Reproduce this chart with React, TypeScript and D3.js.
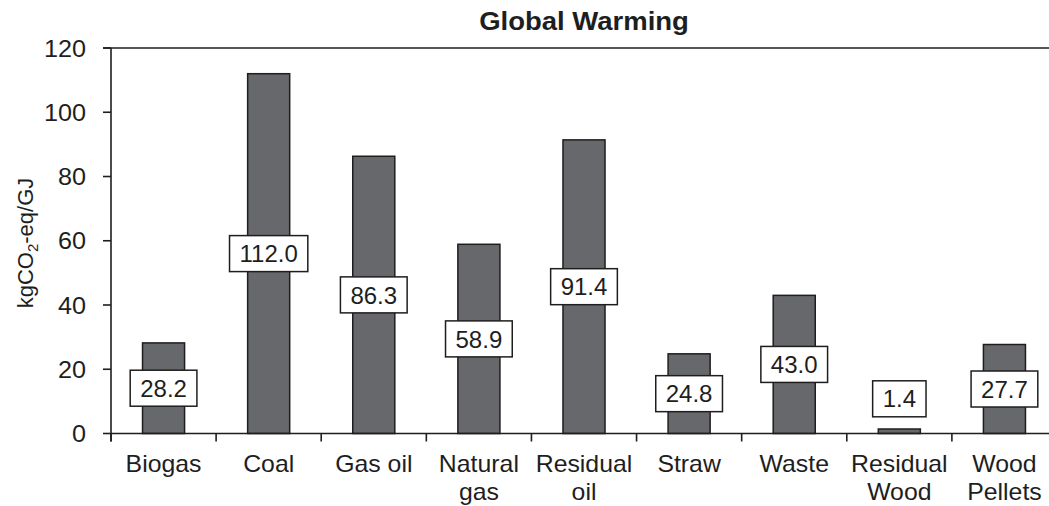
import React, { useEffect, useRef } from "react";
import * as d3 from "d3";

// Global warming potential per fuel, kgCO2-eq/GJ
const categories: string[][] = [
  ["Biogas"],
  ["Coal"],
  ["Gas oil"],
  ["Natural", "gas"],
  ["Residual", "oil"],
  ["Straw"],
  ["Waste"],
  ["Residual", "Wood"],
  ["Wood", "Pellets"],
];
const values: number[] = [28.2, 112.0, 86.3, 58.9, 91.4, 24.8, 43.0, 1.4, 27.7];
const yTicks: number[] = [0, 20, 40, 60, 80, 100, 120];

const W = 1049;
const H = 506;
const FONT = "'Liberation Sans', Arial, Helvetica, sans-serif";
const INK = "#1e1e1e";

export default function App() {
  const ref = useRef<SVGSVGElement | null>(null);

  useEffect(() => {
    const svg = d3.select(ref.current);
    svg.selectAll("*").remove();

    const left = 111;
    const right = 1057;
    const top = 48;
    const bottom = 433.5;

    const keys = categories.map((c) => c.join(" "));
    const x = d3.scaleBand<string>().domain(keys).range([left, right]).paddingInner(0).paddingOuter(0);
    const y = d3.scaleLinear().domain([0, 120]).range([bottom, top]);
    const barW = x.bandwidth() * 0.4;

    // title
    svg
      .append("text")
      .attr("transform", `translate(${(left + right) / 2},30) scale(1.1,1)`)
      .attr("text-anchor", "middle")
      .attr("font-family", FONT)
      .attr("font-weight", "bold")
      .attr("font-size", 25)
      .attr("fill", INK)
      .text("Global Warming");

    // y axis title
    const yt = svg
      .append("text")
      .attr("transform", `translate(33,243) rotate(-90)`)
      .attr("text-anchor", "middle")
      .attr("font-family", FONT)
      .attr("font-size", 22)
      .attr("fill", INK);
    yt.append("tspan").text("kgCO");
    yt.append("tspan").attr("font-size", 15).attr("dy", 5).text("2");
    yt.append("tspan").attr("dy", -5).text("-eq/GJ");

    // bars
    svg
      .append("g")
      .selectAll("rect")
      .data(values)
      .join("rect")
      .attr("x", (_, i) => (x(keys[i]) as number) + x.bandwidth() / 2 - barW / 2)
      .attr("y", (d) => y(d))
      .attr("width", barW)
      .attr("height", (d) => bottom - y(d))
      .attr("fill", "#67686c")
      .attr("stroke", INK)
      .attr("stroke-width", 1.5);

    // axes
    const axes = svg.append("g").attr("stroke", INK).attr("stroke-width", 1.6).attr("fill", "none");
    axes.append("line").attr("x1", left).attr("x2", left).attr("y1", top).attr("y2", bottom + 8);
    axes.append("line").attr("x1", left).attr("x2", right).attr("y1", bottom).attr("y2", bottom);
    axes.append("line").attr("x1", left - 8).attr("x2", right).attr("y1", top).attr("y2", top);
    yTicks.forEach((t) => {
      axes.append("line").attr("x1", left - 8).attr("x2", left).attr("y1", y(t)).attr("y2", y(t));
    });
    keys.forEach((k) => {
      const bx = x(k) as number;
      axes.append("line").attr("x1", bx).attr("x2", bx).attr("y1", bottom).attr("y2", bottom + 8);
    });

    // y tick labels
    svg
      .append("g")
      .selectAll("text")
      .data(yTicks)
      .join("text")
      .attr("transform", (d) => `translate(86,${y(d)}) scale(1.05,1)`)
      .attr("dy", "0.36em")
      .attr("text-anchor", "end")
      .attr("font-family", FONT)
      .attr("font-size", 24)
      .attr("fill", INK)
      .text((d) => String(d));

    // category labels
    const cl = svg.append("g");
    categories.forEach((lines, i) => {
      const cx = (x(keys[i]) as number) + x.bandwidth() / 2;
      lines.forEach((ln, j) => {
        cl.append("text")
          .attr("transform", `translate(${cx},${472 + j * 28}) scale(1.08,1)`)
          .attr("text-anchor", "middle")
          .attr("font-family", FONT)
          .attr("font-size", 23)
          .attr("fill", INK)
          .text(ln);
      });
    });

    // value labels in boxes, centred at half bar height
    const vl = svg.append("g");
    values.forEach((v, i) => {
      const cx = (x(keys[i]) as number) + x.bandwidth() / 2;
      const cy = y(Math.max(v / 2, 10.8));
      const g = vl.append("g");
      const rect = g.append("rect");
      const txt = g
        .append("text")
        .attr("x", cx)
        .attr("y", cy)
        .attr("dy", "0.36em")
        .attr("text-anchor", "middle")
        .attr("font-family", FONT)
        .attr("font-size", 24)
        .attr("fill", INK)
        .text(v.toFixed(1));
      const tw = (txt.node() as SVGTextElement).getComputedTextLength();
      const bw = tw + 20;
      const bh = 36;
      rect
        .attr("x", cx - bw / 2)
        .attr("y", cy - bh / 2)
        .attr("width", bw)
        .attr("height", bh)
        .attr("fill", "#ffffff")
        .attr("stroke", INK)
        .attr("stroke-width", 1.5);
    });
  }, []);

  return (
    <svg
      ref={ref}
      width={W}
      height={H}
      style={{ position: "absolute", left: 0, top: 0, background: "#ffffff", display: "block" }}
    />
  );
}
